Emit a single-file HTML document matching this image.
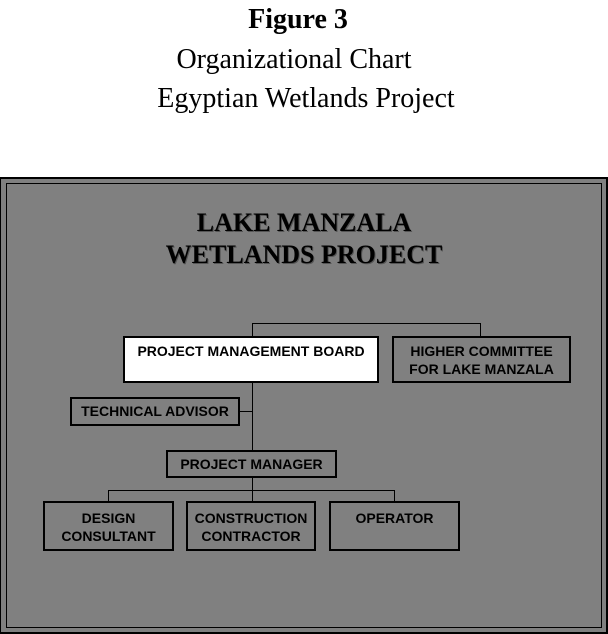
<!DOCTYPE html>
<html><head><meta charset="utf-8"><style>
body{margin:0;width:608px;height:634px;background:#fff;position:relative;overflow:hidden;font-family:"Liberation Sans",sans-serif}
.t{position:absolute;left:0;width:608px;text-align:center;font-family:"Liberation Serif",serif;color:#000}
.b{position:absolute;border:2px solid #000;box-sizing:border-box;font-weight:bold;font-size:14px;text-align:center;line-height:18px;color:#000}
.l{position:absolute;background:#000}
</style></head><body>
<div class="t" style="top:4px;font-size:28px;font-weight:bold;left:-6px">Figure 3</div>
<div class="t" style="top:44px;font-size:28px;left:-10px">Organizational Chart</div>
<div class="t" style="top:83px;font-size:28px;left:2px">Egyptian Wetlands Project</div>
<div style="position:absolute;left:0;top:177px;width:608px;height:457px;box-sizing:border-box;border:2px solid #000;border-left-width:1px;background:#808080">
<div style="position:absolute;left:5px;top:4px;right:4px;bottom:4px;border:1px solid #000"></div>
</div>
<div class="t" style="top:207px;font-size:26px;font-weight:bold;line-height:32px;color:#000;text-shadow:1px 1px 0 #555">LAKE MANZALA<br>WETLANDS PROJECT</div>
<div class="l" style="left:252px;top:323px;width:229px;height:1px"></div>
<div class="l" style="left:252px;top:323px;width:1px;height:13px"></div>
<div class="l" style="left:480px;top:323px;width:1px;height:13px"></div>
<div class="l" style="left:252px;top:382px;width:1px;height:68px"></div>
<div class="l" style="left:239px;top:411px;width:13px;height:1px"></div>
<div class="l" style="left:252px;top:477px;width:1px;height:24px"></div>
<div class="l" style="left:108px;top:490px;width:287px;height:1px"></div>
<div class="l" style="left:108px;top:490px;width:1px;height:11px"></div>
<div class="l" style="left:394px;top:490px;width:1px;height:11px"></div>
<div class="b" style="left:123px;top:336px;width:256px;height:47px;background:#fff;padding-top:4px">PROJECT MANAGEMENT BOARD</div>
<div class="b" style="left:392px;top:336px;width:179px;height:47px;padding-top:4px">HIGHER COMMITTEE<br>FOR LAKE MANZALA</div>
<div class="b" style="left:70px;top:397px;width:170px;height:29px;padding-top:3px">TECHNICAL ADVISOR</div>
<div class="b" style="left:166px;top:450px;width:171px;height:28px;padding-top:3px">PROJECT MANAGER</div>
<div class="b" style="left:43px;top:501px;width:131px;height:50px;padding-top:6px">DESIGN<br>CONSULTANT</div>
<div class="b" style="left:186px;top:501px;width:130px;height:50px;padding-top:6px">CONSTRUCTION<br>CONTRACTOR</div>
<div class="b" style="left:329px;top:501px;width:131px;height:50px;padding-top:6px">OPERATOR</div>
</body></html>
